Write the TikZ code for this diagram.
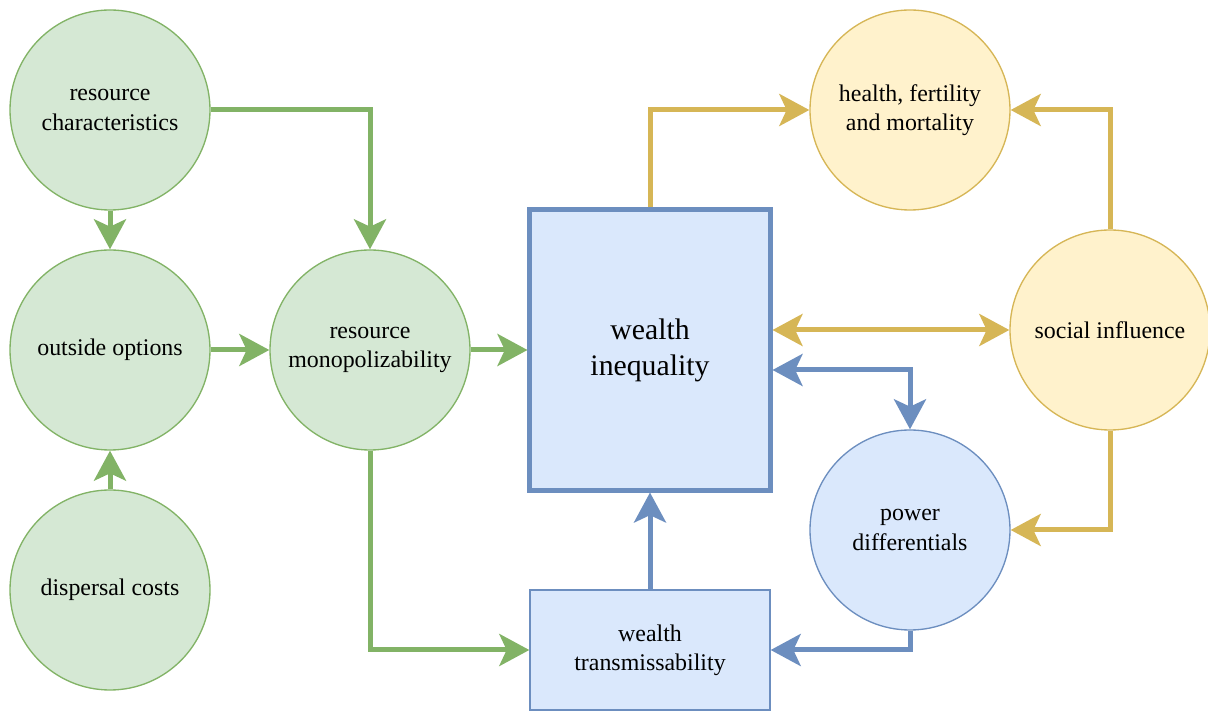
\documentclass[tikz,border=0pt]{standalone}
\usepackage{fontspec}
\setmainfont{Liberation Serif}
\usetikzlibrary{calc}
\usetikzlibrary{arrows.meta,positioning}
\definecolor{gfill}{HTML}{D5E8D4}
\definecolor{gline}{HTML}{82B366}
\definecolor{bfill}{HTML}{DAE8FC}
\definecolor{bline}{HTML}{6C8EBF}
\definecolor{yfill}{HTML}{FFF2CC}
\definecolor{yline}{HTML}{D6B656}
\tikzstyle{gn}=[circle, draw=gline, fill=gfill, line width=0.02cm, align=center, inner sep=0pt, minimum size=3cm]
\tikzstyle{yn}=[gn, draw=yline, fill=yfill]
\tikzstyle{bn}=[gn, draw=bline, fill=bfill]
\tikzstyle{bb}=[rectangle, draw=bline, fill=bfill, line width=0.02cm, align=center, inner sep=0pt, minimum width=3.6cm, minimum height=1.8cm]
\tikzstyle{ga}=[->, >={Stealth[length=0.45cm, width=0.48cm, inset=0.11cm]}, line width=0.075cm, color=gline]
\tikzstyle{ba}=[ga, color=bline]
\tikzstyle{ya}=[ga, color=yline]

\begin{document}
\begin{tikzpicture}[x=0.015cm, y=-0.015cm, font=\fontsize{10.2}{12.4}\selectfont]
\useasboundingbox (0,0) rectangle (1208,711);
%\draw[help lines] (0,0) grid (1208,711);
\node[gn] (rc) at (110,110) {resource\\characteristics};
\node[gn] (oo) at (110,350) {outside options};
\node[gn] (dc) at (110,590) {dispersal costs};
\node[gn] (rm) at (370,350) {resource\\monopolizability};
\node[bb, line width=0.075cm, minimum height=4.2cm, font=\fontsize{12.7}{15.3}\selectfont] (wi) at (650,350) {wealth\\inequality};
\node[bb] (wt) at (650,650) {wealth\\transmissability};
\node[yn] (hf) at (910,110) {health, fertility\\and mortality};
\node[yn] (si) at (1110,330) {social influence};
\node[bn] (pd) at (910,530) {power\\differentials};

% green
\draw[ga] (rc.south) -- (oo.north);
\draw[ga] (dc.north) -- (oo.south);
\draw[ga] (rc.east) -| (rm.north);
\draw[ga] (oo.east) -- (rm.west);
\draw[ga] (rm.east) -- (wi.west);
\draw[ga] (rm.south) |- (wt.west);
% blue
\draw[ba] (wt.north) -- (wi.south);
\draw[ba] (pd.south) |- (wt.east);
\draw[ba, <->] ($(wi.east)+(0,20)$) -| (pd.north);
% yellow
\draw[ya] (wi.north) |- (hf.west);
\draw[ya, <->] (wi.east |- si.west) -- (si.west);
\draw[ya] (si.north) |- (hf.east);
\draw[ya] (si.south) |- (pd.east);
\end{tikzpicture}
\end{document}
